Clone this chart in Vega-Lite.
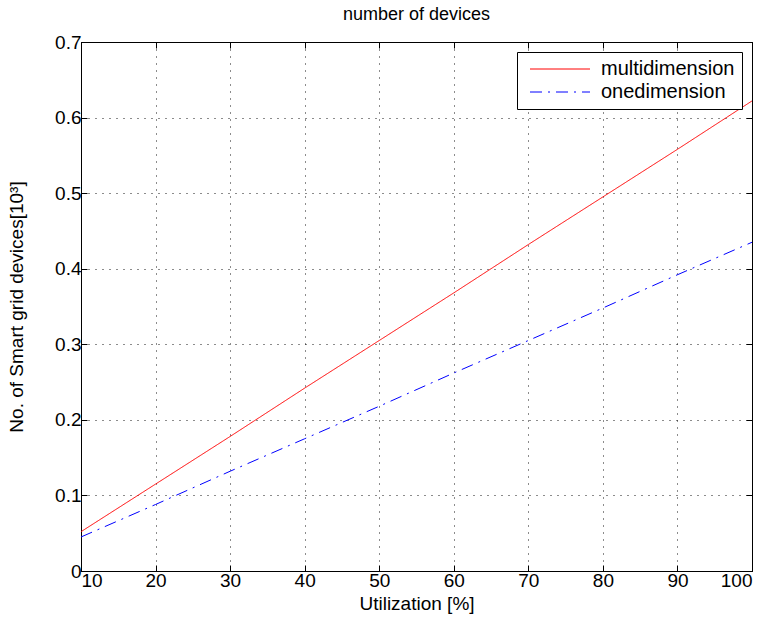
{
  "$schema": "https://vega.github.io/schema/vega-lite/v6.json",
  "autosize": {"type": "none"},
  "width": 671,
  "height": 529,
  "padding": {"left": 81, "top": 42, "right": 21, "bottom": 59},
  "background": "white",
  "title": {"text": "number of devices", "fontSize": 18, "fontWeight": "normal", "font": "Liberation Sans", "color": "black", "offset": 9},
  "config": {
    "view": {"stroke": "black", "strokeWidth": 1},
    "font": "Liberation Sans",
    "axis": {
      "domainColor": "black", "tickColor": "black", "labelColor": "black", "titleColor": "black",
      "labelFont": "Liberation Sans", "titleFont": "Liberation Sans",
      "labelFontSize": 19, "titleFontSize": 19, "titleFontWeight": "normal",
      "tickSize": -6, "gridColor": "black", "gridDash": [1, 6], "gridOpacity": 0.9, "labelPadding": 6
    }
  },
  "data": {"values": [
    {"u": 10, "v": 0.052, "s": "multidimension"},
    {"u": 20, "v": 0.115, "s": "multidimension"},
    {"u": 30, "v": 0.178, "s": "multidimension"},
    {"u": 40, "v": 0.242, "s": "multidimension"},
    {"u": 50, "v": 0.305, "s": "multidimension"},
    {"u": 60, "v": 0.368, "s": "multidimension"},
    {"u": 70, "v": 0.432, "s": "multidimension"},
    {"u": 80, "v": 0.495, "s": "multidimension"},
    {"u": 90, "v": 0.558, "s": "multidimension"},
    {"u": 100, "v": 0.622, "s": "multidimension"},
    {"u": 10, "v": 0.045, "s": "onedimension"},
    {"u": 20, "v": 0.088, "s": "onedimension"},
    {"u": 30, "v": 0.132, "s": "onedimension"},
    {"u": 40, "v": 0.175, "s": "onedimension"},
    {"u": 50, "v": 0.218, "s": "onedimension"},
    {"u": 60, "v": 0.262, "s": "onedimension"},
    {"u": 70, "v": 0.305, "s": "onedimension"},
    {"u": 80, "v": 0.348, "s": "onedimension"},
    {"u": 90, "v": 0.392, "s": "onedimension"},
    {"u": 100, "v": 0.435, "s": "onedimension"}
  ]},
  "layer": [
    {
      "mark": {"type": "line", "strokeWidth": 1, "clip": true},
      "encoding": {
        "x": {"field": "u", "type": "quantitative", "scale": {"domain": [10, 100], "nice": false}, "axis": {"title": "Utilization [%]", "values": [10,20,30,40,50,60,70,80,90,100], "grid": true, "titlePadding": 4}},
        "y": {"field": "v", "type": "quantitative", "scale": {"domain": [0, 0.7], "nice": false}, "axis": {"title": "No. of Smart grid devices[10³]", "format": "~g", "values": [0,0.1,0.2,0.3,0.4,0.5,0.6,0.7], "grid": true, "titlePadding": 28}},
        "color": {"field": "s", "type": "nominal", "scale": {"domain": ["multidimension", "onedimension"], "range": ["#ff0000", "#0000ff"]},
          "legend": {"title": null, "orient": "top-right", "offset": 10, "symbolType": "M-5,0H5", "symbolSize": 144, "symbolOffset": 26, "symbolStrokeWidth": 1, "labelFontSize": 20, "labelColor": "black", "labelFont": "Liberation Sans", "strokeColor": "black", "fillColor": "white", "padding": 7, "rowPadding": 3, "labelOffset": 31}},
        "strokeDash": {"field": "s", "type": "nominal", "scale": {"domain": ["multidimension", "onedimension"], "range": [[1, 0], [12, 6, 2, 6]]}, "legend": null}
      }
    },
    {
      "mark": {"type": "line", "opacity": 0},
      "encoding": {
        "x": {"field": "u", "type": "quantitative", "scale": {"domain": [10, 100], "nice": false}, "axis": {"orient": "top", "labels": false, "title": null, "grid": false, "values": [10,20,30,40,50,60,70,80,90,100]}},
        "y": {"field": "v", "type": "quantitative", "scale": {"domain": [0, 0.7], "nice": false}, "axis": {"orient": "right", "labels": false, "title": null, "grid": false, "values": [0,0.1,0.2,0.3,0.4,0.5,0.6,0.7]}},
        "detail": {"field": "s"}
      }
    }
  ],
  "resolve": {"axis": {"x": "independent", "y": "independent"}}
}
